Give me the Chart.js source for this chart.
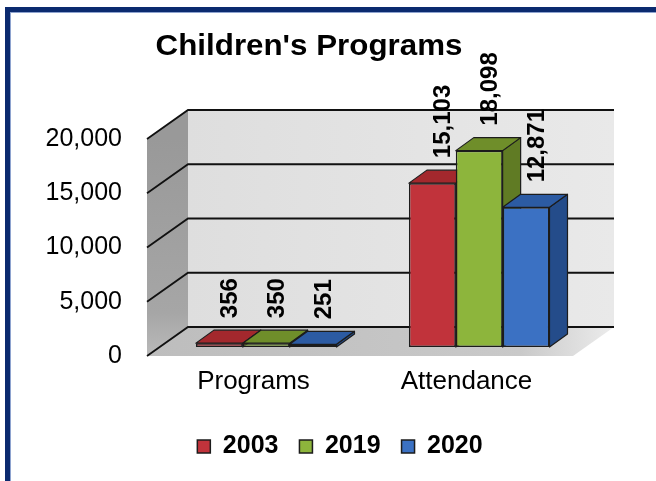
<!DOCTYPE html>
<html>
<head>
<meta charset="utf-8">
<script src="https://cdn.jsdelivr.net/npm/chart.js@4.4.0/dist/chart.umd.min.js"></script>
<style>
  html, body { margin: 0; padding: 0; background: #fff; }
  #wrap { position: relative; width: 656px; height: 481px; }
  #frame {
    position: absolute; left: 5px; top: 7px; right: 0; bottom: 0;
    border-top: 5px solid #0b2a6f; border-left: 5px solid #0b2a6f;
    box-shadow: inset 1px 1px 0 #8ea3cf; pointer-events: none;
  }
</style>
</head>
<body>
<div id="wrap">
  <canvas id="chart" width="656" height="481"></canvas>
  <div id="frame"></div>
</div>
<script>
const chartTitle = "Children's Programs";
const categories = ["Programs", "Attendance"];
const seriesNames = ["2003", "2019", "2020"];
const values2003 = [356, 15103];
const values2019 = [350, 18098];
const values2020 = [251, 12871];
const yTicks = [0, 5000, 10000, 15000, 20000];

const frontColors = ["#c1333b", "#8db53c", "#3b71c3"];
const topColors = ["#a3282d", "#6f8e2a", "#2c5ba3"];
const sideColors = ["#8c2226", "#607b24", "#244c8a"];
const edgeColor = "#1c1c1c";
const font = "'Liberation Sans', Arial, sans-serif";

// 3D look: depth of walls, offset of bars into the box, depth of bars
const DEPTH = { dx: 41, dy: -29 };
const BAR_OFF = { dx: 12.7, dy: -9 };
const BAR_DEPTH = { dx: 18, dy: -13 };

function poly(ctx, pts) {
  ctx.beginPath();
  pts.forEach(([x, y], i) => (i ? ctx.lineTo(x, y) : ctx.moveTo(x, y)));
  ctx.closePath();
}

const box3d = {
  id: "box3d",
  beforeDraw(chart) {
    const { ctx } = chart;
    ctx.save();
    ctx.fillStyle = "#000";
    ctx.font = `bold 29px ${font}`;
    ctx.textAlign = "center";
    ctx.textBaseline = "alphabetic";
    ctx.translate(309, 55);
    ctx.scale(1.08, 1);
    ctx.fillText(chartTitle, 0, 0);
    ctx.restore();
  },
  beforeDatasetsDraw(chart) {
    const { ctx, chartArea: a, scales } = chart;
    const y = scales.y;
    const L = a.left, R = a.right;
    const yTop = y.getPixelForValue(yTicks[yTicks.length - 1]);
    const y0 = y.getPixelForValue(0);
    const dx = DEPTH.dx, dy = DEPTH.dy;
    ctx.save();

    // back wall
    let g = ctx.createLinearGradient(L + dx, 0, R + dx, 0);
    g.addColorStop(0, "#dedede");
    g.addColorStop(1, "#e9e9e9");
    ctx.fillStyle = g;
    ctx.fillRect(L + dx, yTop + dy, R - L, y0 - yTop);

    // side wall
    g = ctx.createLinearGradient(0, yTop, 0, y0);
    g.addColorStop(0, "#999999");
    g.addColorStop(0.8, "#a6a6a6");
    g.addColorStop(1, "#bababa");
    ctx.fillStyle = g;
    poly(ctx, [[L, yTop], [L + dx, yTop + dy], [L + dx, y0 + dy], [L, y0]]);
    ctx.fill();

    // floor
    g = ctx.createLinearGradient(L, 0, R + dx, 0);
    g.addColorStop(0, "#bdbdbd");
    g.addColorStop(0.8, "#c9c9c9");
    g.addColorStop(1, "#ececec");
    ctx.fillStyle = g;
    poly(ctx, [[L, y0], [L + dx, y0 + dy], [R + dx, y0 + dy], [R, y0]]);
    ctx.fill();

    // grid lines on side + back wall
    ctx.strokeStyle = "#111";
    ctx.lineWidth = 1.8;
    yTicks.forEach((v) => {
      const p = y.getPixelForValue(v);
      ctx.beginPath();
      ctx.moveTo(L, p);
      ctx.lineTo(L + dx, p + dy);
      ctx.lineTo(R + dx, p + dy);
      ctx.stroke();
    });

    // bar tops and sides (fronts come from chart.js, drawn afterwards)
    ctx.strokeStyle = edgeColor;
    ctx.lineWidth = 1.2;
    ctx.lineJoin = "round";
    const bdx = BAR_DEPTH.dx, bdy = BAR_DEPTH.dy;
    chart.data.datasets.forEach((ds, di) => {
      chart.getDatasetMeta(di).data.forEach((bar) => {
        const p = bar.getProps(["x", "y", "base", "width"], true);
        const l = p.x - p.width / 2 + BAR_OFF.dx, r = p.x + p.width / 2 + BAR_OFF.dx;
        const t = p.y + BAR_OFF.dy, b = p.base + BAR_OFF.dy;
        ctx.fillStyle = sideColors[di];
        poly(ctx, [[r, t], [r + bdx, t + bdy], [r + bdx, b + bdy], [r, b]]);
        ctx.fill();
        ctx.stroke();
        ctx.fillStyle = topColors[di];
        poly(ctx, [[l, t], [l + bdx, t + bdy], [r + bdx, t + bdy], [r, t]]);
        ctx.fill();
        ctx.stroke();
      });
    });
    ctx.restore();

    // shift the bar fronts into the box
    ctx.save();
    ctx.translate(BAR_OFF.dx, BAR_OFF.dy);
  },
  afterDatasetsDraw(chart) {
    const { ctx } = chart;
    ctx.restore();

    // value labels, rotated
    ctx.save();
    ctx.fillStyle = "#000";
    ctx.font = `bold 24px ${font}`;
    ctx.textAlign = "left";
    ctx.textBaseline = "middle";
    chart.data.datasets.forEach((ds, di) => {
      chart.getDatasetMeta(di).data.forEach((bar, i) => {
        const p = bar.getProps(["x", "y"], true);
        ctx.save();
        ctx.translate(p.x + BAR_OFF.dx + 11, p.y + BAR_OFF.dy - 25);
        ctx.rotate(-Math.PI / 2);
        ctx.fillText(ds.data[i].toLocaleString("en-US"), 0, 0);
        ctx.restore();
      });
    });
    ctx.restore();
  }
};

const seriesValues = [values2003, values2019, values2020];

new Chart(document.getElementById("chart"), {
  type: "bar",
  data: {
    labels: categories,
    datasets: seriesNames.map((name, i) => ({
      label: name,
      data: seriesValues[i],
      backgroundColor: frontColors[i],
      borderColor: edgeColor,
      borderWidth: 1.5,
      borderSkipped: false,
      categoryPercentage: 0.66,
      barPercentage: 1,
      clip: false
    }))
  },
  options: {
    responsive: false,
    animation: false,
    layout: { padding: { top: 139, left: 24, right: 0, bottom: 12 } },
    scales: {
      x: {
        grid: { display: false, drawTicks: false },
        border: { display: false },
        ticks: { padding: 10, color: "#000", font: { family: font, size: 26 } },
        afterFit: (s) => { s.height = 57; }
      },
      y: {
        min: 0,
        max: 20000,
        afterBuildTicks: (s) => { s.ticks = yTicks.map((v) => ({ value: v })); },
        grid: { display: false, drawTicks: false },
        border: { display: false },
        ticks: {
          padding: 25,
          color: "#000",
          font: { family: font, size: 25 },
          callback: (v) => Number(v).toLocaleString("en-US")
        },
        afterFit: (s) => { s.width = 123; }
      },
      yRight: {
        position: "right",
        grid: { display: false, drawTicks: false },
        border: { display: false },
        ticks: { display: false },
        afterFit: (s) => { s.width = 83; }
      }
    },
    plugins: {
      title: { display: false },
      tooltip: { enabled: false },
      legend: {
        position: "bottom",
        labels: {
          boxWidth: 13,
          boxHeight: 13,
          padding: 21,
          color: "#000",
          font: { family: font, size: 25, weight: "bold" }
        }
      }
    }
  },
  plugins: [box3d]
});
</script>
</body>
</html>
